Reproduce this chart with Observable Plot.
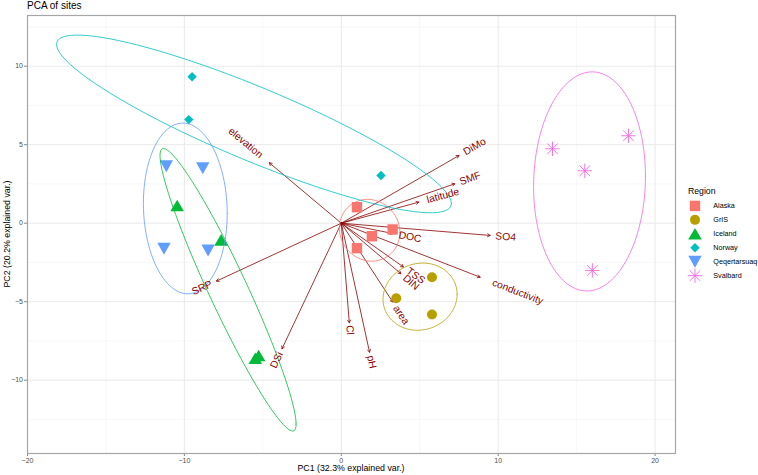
<!DOCTYPE html>
<html><head><meta charset="utf-8">
<script src="https://cdn.jsdelivr.net/npm/d3@7"></script>
<script src="https://cdn.jsdelivr.net/npm/@observablehq/plot@0.6"></script>
<style>
body{margin:0;background:#fff;}
#chart{position:relative;width:758px;height:475px;}
</style></head><body><div id="chart"></div>
<script>
// ---- data ----
const regions = ["Alaska","GrIS","Iceland","Norway","Qeqertarsuaq","Svalbard"];
const regionColors = ["#F8766D","#B79F00","#00BA38","#00BFC4","#619CFF","#F564E3"];

const siteRegion = ["Alaska","Alaska","Alaska","Alaska",
  "GrIS","GrIS","GrIS",
  "Iceland","Iceland","Iceland","Iceland",
  "Norway","Norway","Norway",
  "Qeqertarsuaq","Qeqertarsuaq","Qeqertarsuaq","Qeqertarsuaq",
  "Svalbard","Svalbard","Svalbard","Svalbard"];
const sitePC1 = [1.0, 3.27, 1.95, 1.0,
  5.78, 3.5, 5.78,
  -10.46, -7.66, -5.48, -5.27,
  -9.51, -9.72, 2.53,
  -11.15, -8.83, -11.3, -8.49,
  13.46, 18.3, 15.52, 16.0];
const sitePC2 = [1.02, -0.40, -0.83, -1.59,
  -3.44, -4.78, -5.82,
  1.13, -1.06, -8.6, -8.43,
  9.33, 6.6, 3.04,
  3.63, 3.5, -1.63, -1.74,
  4.74, 5.57, 3.34, -3.01];

const varNames = ["elevation","DiMo","SMF","latitude","SO4","DOC","conductivity","TSS","DIN","area","Cl","pH","DSi","SRP"];
const varPC1 = [-4.59, 7.5, 7.23, 4.94, 9.49, 3.31, 8.85, 3.96, 3.80, 3.28, 0.51, 1.8, -3.78, -7.96];
const varPC2 = [3.85, 4.31, 2.51, 1.34, -0.78, -0.66, -3.44, -2.79, -3.22, -5.02, -6.34, -8.22, -8.0, -3.69];

const xTicks = [-20, -10, 0, 10, 20];
const xMinor = [-15, -5, 5, 15];
const yTicks = [-10, -5, 0, 5, 10];
const yMinor = [-12.5, -7.5, -2.5, 2.5, 7.5, 12.5];
const ellipseProb = 0.8;

const titleText = "PCA of sites";
const xTitle = "PC1 (32.3% explained var.)";
const yTitle = "PC2 (20.2% explained var.)";
const legendTitle = "Region";

// ---- build tables ----
const FONT = "'Liberation Sans', Arial, Helvetica, sans-serif";
const sites = siteRegion.map((r, i) => ({region: r, x: sitePC1[i], y: sitePC2[i]}));
const vars = varNames.map((n, i) => ({name: n, x: varPC1[i], y: varPC2[i]}));
const colorOf = Object.fromEntries(regions.map((r, i) => [r, regionColors[i]]));

const shapes = {
  Alaska: {draw(c){ const s=5.2; c.moveTo(-s,-s); c.lineTo(s,-s); c.lineTo(s,s); c.lineTo(-s,s); c.closePath(); }},
  GrIS: {draw(c){ const r=5.0; c.moveTo(r,0); c.arc(0,0,r,0,2*Math.PI); c.closePath(); }},
  Iceland: {draw(c){ const w=6.8,h=5.8; c.moveTo(0,-h); c.lineTo(w,h); c.lineTo(-w,h); c.closePath(); }},
  Norway: {draw(c){ const r=4.7; c.moveTo(0,-r); c.lineTo(r,0); c.lineTo(0,r); c.lineTo(-r,0); c.closePath(); }},
  Qeqertarsuaq: {draw(c){ const w=6.7,h=6.0; c.moveTo(-w,-h); c.lineTo(w,-h); c.lineTo(0,h); c.closePath(); }},
  Svalbard: {draw(c){ const r=7.2, d=5.3; c.moveTo(-r,0);c.lineTo(r,0);c.moveTo(0,-r);c.lineTo(0,r);c.moveTo(-d,-d);c.lineTo(d,d);c.moveTo(-d,d);c.lineTo(d,-d); }}
};
const stroked = {Svalbard: true};

// ellipses (normal data ellipse, as ggbiplot)
const ed = Math.sqrt(-2 * Math.log(1 - ellipseProb));
const ellipses = regions.map(r => {
  const pts = sites.filter(d => d.region === r);
  const n = pts.length;
  const mx = d3.mean(pts, d => d.x), my = d3.mean(pts, d => d.y);
  let sxx = 0, syy = 0, sxy = 0;
  for (const p of pts) { sxx += (p.x-mx)**2; syy += (p.y-my)**2; sxy += (p.x-mx)*(p.y-my); }
  sxx /= n-1; syy /= n-1; sxy /= n-1;
  const r11 = Math.sqrt(sxx), r12 = sxy / r11, r22 = Math.sqrt(Math.max(0, syy - r12*r12));
  return d3.range(0, 101).map(k => {
    const t = 2*Math.PI*k/100;
    return {region: r, x: mx + ed*Math.cos(t)*r11, y: my + ed*(Math.cos(t)*r12 + Math.sin(t)*r22)};
  });
});

// label offsets (ggbiplot varname.adjust = 1.5)
const LABEL_SIZE = 10.3;
const ctx = document.createElement("canvas").getContext("2d");
ctx.font = `${LABEL_SIZE}px ${FONT}`;

const W = 758, H = 475, mL = 27, mR = 83, mT = 15, mB = 22;

const labelMarks = vars.map(v => {
  const w = ctx.measureText(v.name).width;
  const len = Math.hypot(v.x, v.y);
  const ux = v.x / len, uy = -v.y / len;
  const ang = Math.atan(v.y / v.x) * 180 / Math.PI;
  return Plot.text([v], {x: "x", y: "y", text: "name", rotate: -ang,
    dx: ux * 0.75 * w, dy: uy * 0.75 * w, fill: "#8B0000",
    fontSize: LABEL_SIZE, textAnchor: "middle", lineAnchor: "middle"});
});

const pointMarks = regions.map(r => Plot.dot(sites.filter(d => d.region === r), {
  x: "x", y: "y", symbol: shapes[r], r: 5,
  fill: stroked[r] ? "none" : colorOf[r],
  stroke: stroked[r] ? colorOf[r] : "none",
  strokeWidth: stroked[r] ? 0.9 : 0
}));

const ellipseMarks = ellipses.map((e, i) => Plot.line(e, {x: "x", y: "y", stroke: regionColors[i], strokeWidth: 0.8}));

const svg = Plot.plot({
  width: W, height: H, marginLeft: mL, marginRight: mR, marginTop: mT, marginBottom: mB,
  x: {domain: [-20, 21.3]},
  y: {domain: [-14.67, 13.23]},
  style: {fontFamily: FONT, background: "white", overflow: "visible"},
  marks: [
    Plot.ruleX(xMinor, {stroke: "#F3F3F3", strokeWidth: 0.7}),
    Plot.ruleY(yMinor, {stroke: "#F3F3F3", strokeWidth: 0.7}),
    Plot.ruleX(xTicks, {stroke: "#E6E6E6", strokeWidth: 0.9}),
    Plot.ruleY(yTicks, {stroke: "#E6E6E6", strokeWidth: 0.9}),
    Plot.axisX(xTicks, {tickSize: 3, tickPadding: 2, fontSize: 7, stroke: "#888", fill: "#4D4D4D", label: null}),
    Plot.axisY(yTicks, {tickSize: 3, tickPadding: 1.5, fontSize: 7, stroke: "#888", fill: "#4D4D4D", label: null}),
    Plot.arrow(vars, {x1: () => 0, y1: () => 0, x2: "x", y2: "y", stroke: "#8B0000", strokeWidth: 0.8, headLength: 5.5, headAngle: 60}),
    ...pointMarks,
    ...ellipseMarks,
    ...labelMarks,
    Plot.frame({stroke: "#A6A6A6", strokeWidth: 1.2})
  ]
});
document.getElementById("chart").appendChild(svg);

// titles & legend
const s = d3.select(svg);
s.append("text").attr("x", 27).attr("y", 8.6).attr("text-anchor", "start").attr("font-size", 10).attr("fill", "#000").attr("font-family", FONT).text(titleText);
s.append("text").attr("x", (mL + W - mR) / 2).attr("y", 471).attr("text-anchor", "middle").attr("font-size", 8.8).attr("fill", "#000").attr("font-family", FONT).text(xTitle);
s.append("text").attr("transform", `translate(10,${(mT + H - mB) / 2}) rotate(-90)`).attr("text-anchor", "middle").attr("font-size", 8.8).attr("fill", "#000").attr("font-family", FONT).text(yTitle);

const lg = s.append("g").attr("font-family", FONT).attr("text-anchor", "start");
lg.append("text").attr("x", 688).attr("y", 193.8).attr("text-anchor", "start").attr("font-size", 8.7).attr("fill", "#000").text(legendTitle);
regions.forEach((r, i) => {
  const y = 205.9 + i * 13.95;
  const p = d3.path(); shapes[r].draw(p, 0);
  lg.append("path").attr("d", p.toString()).attr("transform", `translate(695,${y})`)
    .attr("fill", stroked[r] ? "none" : colorOf[r]).attr("stroke", stroked[r] ? colorOf[r] : "none").attr("stroke-width", 0.9);
  lg.append("text").attr("x", 713.3).attr("y", y).attr("dy", "0.35em").attr("text-anchor", "start").attr("font-size", 7.2).attr("fill", "#000").text(r);
});
</script></body></html>
